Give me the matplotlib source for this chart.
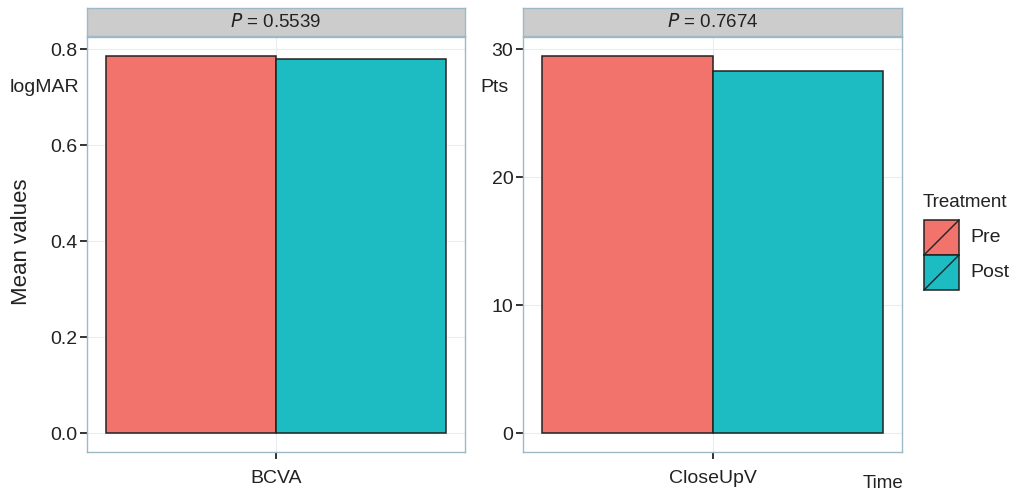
import matplotlib
matplotlib.use("Agg")
import matplotlib.pyplot as plt
from matplotlib.patches import Rectangle
from matplotlib.lines import Line2D

plt.rcParams['font.family'] = ['Liberation Sans', 'DejaVu Sans']

treatments = ["Pre", "Post"]
colors = ["#F2736C", "#1CBCC2"]
measures = ["BCVA", "CloseUpV"]
units = ["logMAR", "Pts"]
p_values = ["0.5539", "0.7674"]
bcva_means = [0.786, 0.780]
closeupv_means = [29.5, 28.35]
all_means = [bcva_means, closeupv_means]
yticks = [[0.0, 0.2, 0.4, 0.6, 0.8], [0, 10, 20, 30]]
ytick_labels = [["0.0", "0.2", "0.4", "0.6", "0.8"], ["0", "10", "20", "30"]]

W, H = 1011, 492
fig = plt.figure(figsize=(W / 100, H / 100), dpi=100)

border_col = "#9fb8c6"
panel_x = [(87, 465), (523, 902)]
top, bottom = 37, 452
strip_top, strip_bot = 8, 36

for i in range(2):
    x0, x1 = panel_x[i]
    ax = fig.add_axes([x0 / W, 1 - bottom / H, (x1 - x0) / W, (bottom - top) / H])
    means = all_means[i]
    width = 0.45
    for j in range(2):
        ax.bar(1 + (j - 0.5) * width, means[j], width=width, color=colors[j],
               edgecolor="#222222", linewidth=1.1, zorder=3)
    ymax = max(means)
    pad = ymax * 0.05
    ax.set_ylim(-pad, ymax + pad)
    ax.set_xlim(0.5, 1.5)
    ax.set_xticks([1])
    ax.set_xticklabels([measures[i]], fontsize=14)
    ax.set_yticks(yticks[i])
    ax.set_yticklabels(ytick_labels[i], fontsize=14)
    ax.grid(True, color="#e6eef2", linewidth=0.8, zorder=0)
    ax.tick_params(axis="both", direction="out", length=5, width=1.4,
                   color="#333333", labelcolor="#222222", pad=2)
    ax.tick_params(axis="x", pad=8)
    for s in ax.spines.values():
        s.set_color(border_col)
        s.set_linewidth(1.0)

    sax = fig.add_axes([x0 / W, 1 - strip_bot / H, (x1 - x0) / W, (strip_bot - strip_top) / H])
    sax.set_facecolor("#cccccc")
    sax.set_xticks([])
    sax.set_yticks([])
    for s in sax.spines.values():
        s.set_color(border_col)
        s.set_linewidth(1.0)
    sax.text(0.5, 0.5, r"$P$ = " + p_values[i], ha="center", va="center",
             fontsize=13.5, color="#222222", transform=sax.transAxes)

fig.text(44 / W, 1 - 88 / H, units[0], ha="center", va="center", fontsize=14, color="#222222")
fig.text(495 / W, 1 - 88 / H, units[1], ha="center", va="center", fontsize=14, color="#222222")
fig.text(22 / W, 1 - 242 / H, "Mean values", rotation=90, ha="center", va="center", fontsize=16, color="#222222")
fig.text(883 / W, 1 - 483 / H, "Time", ha="center", va="center", fontsize=13.5, color="#222222")

# legend
fig.text(965 / W, 1 - 202 / H, "Treatment", ha="center", va="center", fontsize=13.5, color="#222222")
key_x0, key_x1 = 924, 959
key_rows = [(220, 255), (255, 290)]
for j in range(2):
    ya, yb = key_rows[j]
    fig.patches.append(Rectangle((key_x0 / W, 1 - yb / H), (key_x1 - key_x0) / W, (yb - ya) / H,
                                 transform=fig.transFigure, facecolor=colors[j],
                                 edgecolor="#222222", linewidth=1.1))
    fig.lines.append(Line2D([key_x0 / W, key_x1 / W], [1 - yb / H, 1 - ya / H],
                            transform=fig.transFigure, color="#222222", linewidth=1.0))
    fig.text(970 / W, 1 - (ya + yb) / 2 / H, treatments[j], ha="left", va="center",
             fontsize=14, color="#222222")

fig.savefig("out.png", dpi=100)
